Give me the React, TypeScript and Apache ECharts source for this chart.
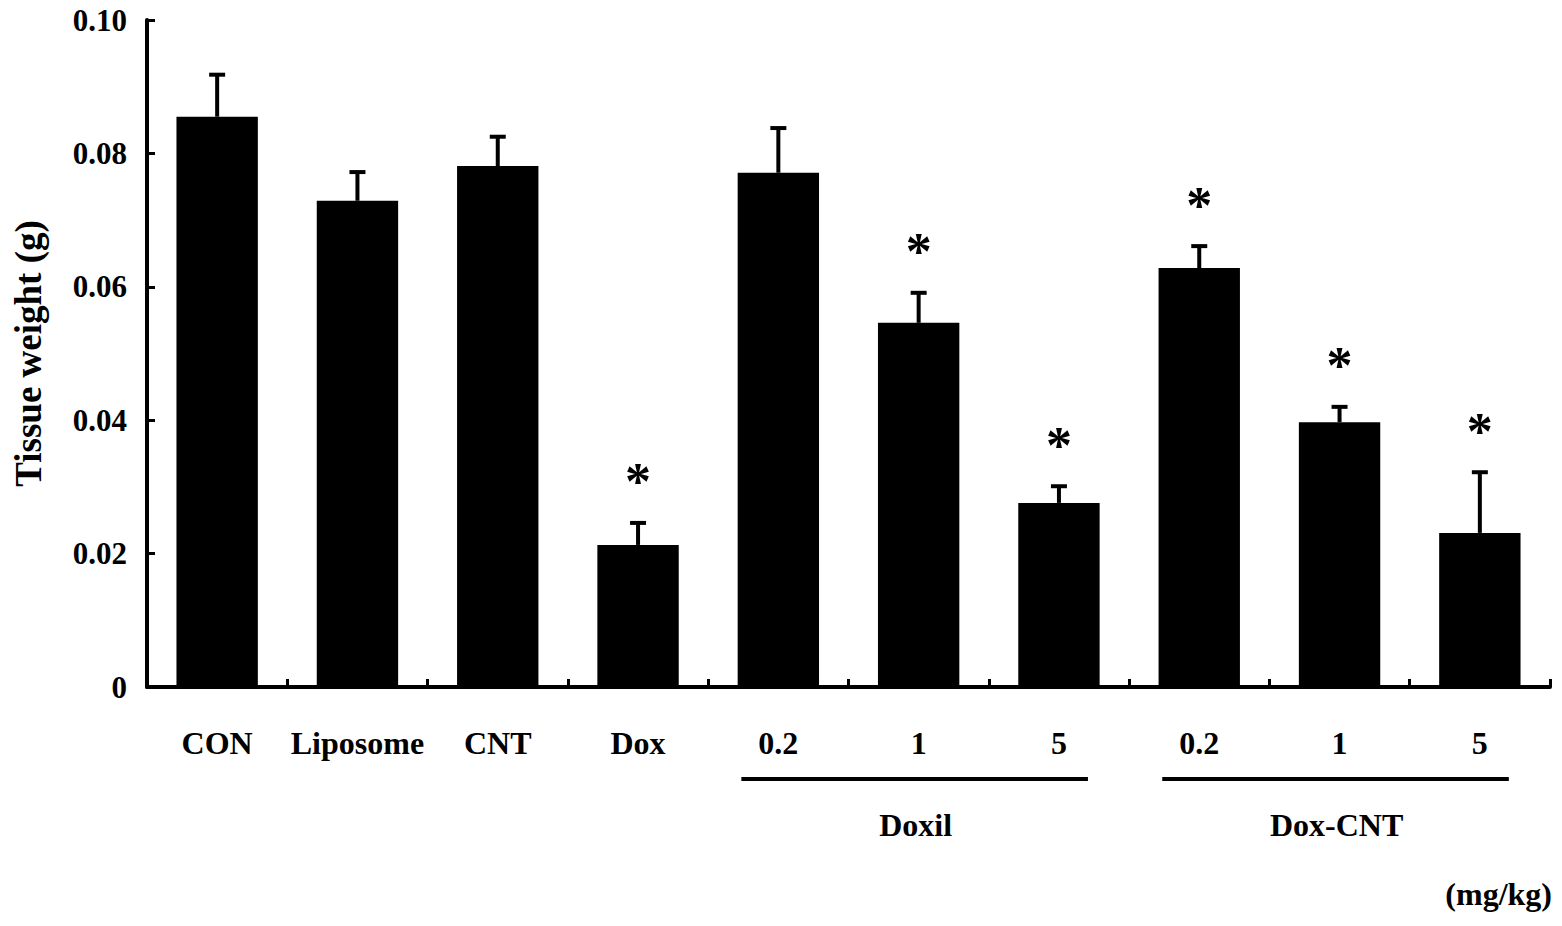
import React, { useEffect, useRef } from "react";
import * as echarts from "echarts";

const categories = [
  "CON", "Liposome", "CNT", "Dox",
  "Doxil 0.2", "Doxil 1", "Doxil 5",
  "Dox-CNT 0.2", "Dox-CNT 1", "Dox-CNT 5",
];
const tickLabels = ["CON", "Liposome", "CNT", "Dox", "0.2", "1", "5", "0.2", "1", "5"];
const means = [0.0855, 0.0729, 0.0781, 0.0213, 0.0771, 0.0546, 0.0276, 0.0628, 0.0397, 0.0231];
const errors = [0.0063, 0.0043, 0.0044, 0.0033, 0.0067, 0.0045, 0.0025, 0.0033, 0.0023, 0.0091];
const significant = [0, 0, 0, 1, 0, 1, 1, 1, 1, 1];
const yTicks = [0, 0.02, 0.04, 0.06, 0.08, 0.1];
const groups = [
  { name: "Doxil", from: 4, to: 6 },
  { name: "Dox-CNT", from: 7, to: 9 },
];

const FONT = '"Liberation Serif", "Times New Roman", serif';

export default function App() {
  const ref = useRef<HTMLDivElement>(null);
  useEffect(() => {
    if (!ref.current) return;
    const chart = echarts.init(ref.current, null, { renderer: "svg" });
    const option: any = {
      animation: false,
      backgroundColor: "#fff",
      grid: {
        left: 147, right: 12, top: 20, bottom: 239,
        containLabel: false,
        outerBoundsMode: "none",
      },
      xAxis: {
        type: "category",
        data: categories,
        boundaryGap: true,
        axisLine: { lineStyle: { color: "#000", width: 4 } },
        axisTick: { show: true, inside: true, length: 8, lineStyle: { color: "#000", width: 3 } },
        axisLabel: {
          margin: 40,
          color: "#000",
          fontFamily: FONT,
          fontWeight: "bold",
          fontSize: 32,
          interval: 0,
          formatter: (_v: string, i: number) => tickLabels[i],
        },
      },
      yAxis: {
        type: "value",
        min: 0,
        max: 0.1,
        interval: 0.02,
        name: "Tissue weight (g)",
        nameLocation: "middle",
        nameGap: 100,
        nameRotate: 90,
        nameTextStyle: { color: "#000", fontFamily: FONT, fontWeight: "bold", fontSize: 37 },
        axisLine: { show: true, lineStyle: { color: "#000", width: 4 } },
        axisTick: { show: true, inside: true, length: 8, lineStyle: { color: "#000", width: 3 } },
        splitLine: { show: false },
        axisLabel: {
          margin: 20,
          color: "#000",
          fontFamily: FONT,
          fontWeight: "bold",
          fontSize: 31,
          formatter: (v: number) => {
            const t = yTicks.find((y) => Math.abs(y - v) < 1e-9);
            if (t === 0) return "0";
            return (t ?? v).toFixed(2);
          },
        },
      },
      series: [
        {
          type: "bar",
          data: means,
          barWidth: "58%",
          itemStyle: { color: "#000" },
          z: 2,
        },
        {
          type: "custom",
          z: 3,
          data: categories.map((_, i) => [i, means[i], errors[i], significant[i]]),
          renderItem: (params: any, api: any) => {
            const i = api.value(0);
            const m = api.value(1);
            const e = api.value(2);
            const s = api.value(3);
            const base = api.coord([i, m]);
            const top = api.coord([i, m + e]);
            const children: any[] = [
              {
                type: "line",
                shape: { x1: base[0], y1: base[1], x2: top[0], y2: top[1] },
                style: { stroke: "#000", lineWidth: 4 },
              },
              {
                type: "line",
                shape: { x1: top[0] - 8, y1: top[1], x2: top[0] + 8, y2: top[1] },
                style: { stroke: "#000", lineWidth: 4 },
              },
            ];
            if (s) {
              children.push({
                type: "text",
                style: {
                  text: "*",
                  x: top[0],
                  y: top[1] - 41,
                  textAlign: "center",
                  textVerticalAlign: "middle",
                  font: `bold 52px ${FONT}`,
                  fill: "#000",
                },
              });
            }
            return { type: "group", children };
          },
        },
      ],
    };
    chart.setOption(option);

    const graphics: any[] = [];
    const px = (i: number) => chart.convertToPixel({ xAxisIndex: 0 }, categories[i]) as number;
    groups.forEach((g) => {
      const x1 = px(g.from) - 37;
      const x2 = px(g.to) + 29;
      const mid = px(Math.round((g.from + g.to) / 2));
      graphics.push({
        type: "line",
        shape: { x1, y1: 779, x2, y2: 779 },
        style: { stroke: "#000", lineWidth: 4 },
      });
      graphics.push({
        type: "text",
        x: mid - 3,
        y: 825,
        style: {
          text: g.name,
          textAlign: "center",
          textVerticalAlign: "middle",
          font: `bold 32px ${FONT}`,
          fill: "#000",
        },
      });
    });
    graphics.push({
      type: "text",
      right: 10,
      top: 878,
      style: {
        text: "(mg/kg)",
        font: `bold 32px ${FONT}`,
        fill: "#000",
      },
    });
    chart.setOption({ graphic: graphics });

    return () => chart.dispose();
  }, []);
  return <div ref={ref} style={{ width: 1562, height: 926, position: "absolute", left: 0, top: 0 }} />;
}
